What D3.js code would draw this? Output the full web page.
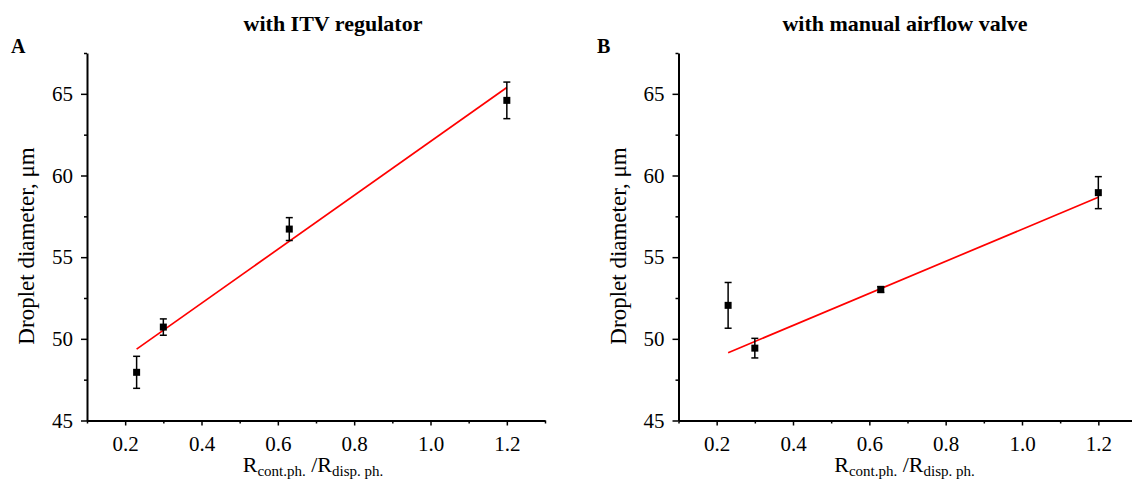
<!DOCTYPE html>
<html>
<head>
<meta charset="utf-8">
<script src="https://cdn.jsdelivr.net/npm/d3@7"></script>
<style>
  body { margin: 0; background: #fff; }
  svg { display: block; }
  .axis path, .axis line { stroke: #000; }
  .axis text { font-size: 21px; fill: #000; }
</style>
</head>
<body>
<svg id="chart" width="1132" height="487"></svg>
<script>
var ratio = [0.23, 0.30, 0.63, 1.20];
var diamITV = [47.95, 50.72, 56.72, 64.6];
var errITV = [0.98, 0.5, 0.7, 1.12];
var diamManual = [52.05, 49.43, 53.02, 58.95];
var errManual = [1.4, 0.6, 0.18, 0.98];
var fitX = [0.23, 1.2];
var fitITV = [49.37, 65.39];
var fitManual = [49.15, 58.67];
var xTicks = [0.2, 0.4, 0.6, 0.8, 1.0, 1.2];
var xMinor = [0.1, 0.3, 0.5, 0.7, 0.9, 1.1, 1.3];
var yTicks = [45, 50, 55, 60, 65];
var yMinor = [47.5, 52.5, 57.5, 62.5, 67.5];

var serif = "'Palatino Linotype', 'Book Antiqua', Palatino, 'Liberation Serif', serif";
var svg = d3.select("#chart").attr("font-family", serif);

function panel(left, letter, letterX, title, titleX, diam, err, fit) {
  "use strict";
  var x = d3.scaleLinear().domain([0.1, 1.3]).range([left, left + 458]);
  var y = d3.scaleLinear().domain([45, 67.5]).range([420.5, 53]);
  var g = svg.append("g");

  // minor ticks first, majors on top
  g.append("g").attr("class", "axis")
    .attr("transform", "translate(0,420.5)")
    .call(d3.axisBottom(x).tickValues(xMinor).tickSize(3).tickFormat(""))
    .call(function(s) { s.select(".domain").remove(); })
    .selectAll("line").attr("stroke-width", 1.5);
  g.append("g").attr("class", "axis")
    .attr("transform", "translate(" + left + ",0)")
    .call(d3.axisLeft(y).tickValues(yMinor).tickSize(3).tickFormat(""))
    .call(function(s) { s.select(".domain").remove(); })
    .selectAll("line").attr("stroke-width", 1.5);

  var xa = g.append("g").attr("class", "axis")
    .attr("transform", "translate(0,420.5)")
    .call(d3.axisBottom(x).tickValues(xTicks).tickSize(5).tickSizeOuter(0)
      .tickPadding(11).tickFormat(d3.format(".1f")))
    .attr("font-family", serif);
  xa.select(".domain").attr("stroke-width", 2);
  xa.selectAll("line").attr("stroke-width", 1.5);

  var ya = g.append("g").attr("class", "axis")
    .attr("transform", "translate(" + left + ",0)")
    .call(d3.axisLeft(y).tickValues(yTicks).tickSize(6).tickSizeOuter(0)
      .tickPadding(8))
    .attr("font-family", serif);
  ya.select(".domain").attr("stroke-width", 2);
  ya.selectAll("line").attr("stroke-width", 1.5);

  // fit line
  g.append("line")
    .attr("x1", x(fitX[0])).attr("y1", y(fit[0]))
    .attr("x2", x(fitX[1])).attr("y2", y(fit[1]))
    .attr("stroke", "#ff0000").attr("stroke-width", 1.7);

  // error bars
  var pts = ratio.map(function(r, i) { return {r: r, d: diam[i], e: err[i]}; });
  var eb = g.selectAll(".eb").data(pts).enter().append("g")
    .attr("stroke", "#000").attr("stroke-width", 1.5);
  eb.append("line")
    .attr("x1", function(p) { return x(p.r); }).attr("x2", function(p) { return x(p.r); })
    .attr("y1", function(p) { return y(p.d + p.e); }).attr("y2", function(p) { return y(p.d - p.e); });
  eb.append("line")
    .attr("x1", function(p) { return x(p.r) - 3.5; }).attr("x2", function(p) { return x(p.r) + 3.5; })
    .attr("y1", function(p) { return y(p.d + p.e); }).attr("y2", function(p) { return y(p.d + p.e); });
  eb.append("line")
    .attr("x1", function(p) { return x(p.r) - 3.5; }).attr("x2", function(p) { return x(p.r) + 3.5; })
    .attr("y1", function(p) { return y(p.d - p.e); }).attr("y2", function(p) { return y(p.d - p.e); });

  g.selectAll(".pt").data(pts).enter().append("rect")
    .attr("x", function(p) { return x(p.r) - 3.5; })
    .attr("y", function(p) { return y(p.d) - 3.5; })
    .attr("width", 7).attr("height", 7).attr("fill", "#000");

  // titles and labels
  g.append("text").attr("x", titleX).attr("y", 31)
    .attr("text-anchor", "middle").attr("font-weight", "bold").attr("font-size", 22)
    .text(title);
  g.append("text").attr("x", letterX).attr("y", 53)
    .attr("font-weight", "bold").attr("font-size", 20)
    .text(letter);

  g.append("text")
    .attr("transform", "translate(" + (left - 53) + ",246) rotate(-90)")
    .attr("text-anchor", "middle").attr("font-size", 23)
    .text("Droplet diameter, \u03bcm");

  var xl = g.append("text").attr("x", x(0.7) - 3).attr("y", 472)
    .attr("text-anchor", "middle").attr("font-size", 22);
  xl.append("tspan").text("R");
  xl.append("tspan").attr("font-size", 15).attr("dy", 4).text("cont.ph.");
  xl.append("tspan").attr("dy", -4).text(" /R");
  xl.append("tspan").attr("font-size", 15).attr("dy", 4).text("disp. ph.");
}

panel(87, "A", 11, "with ITV regulator", 333, diamITV, errITV, fitITV);
panel(678.5, "B", 597, "with manual airflow valve", 905, diamManual, errManual, fitManual);
</script>
</body>
</html>
